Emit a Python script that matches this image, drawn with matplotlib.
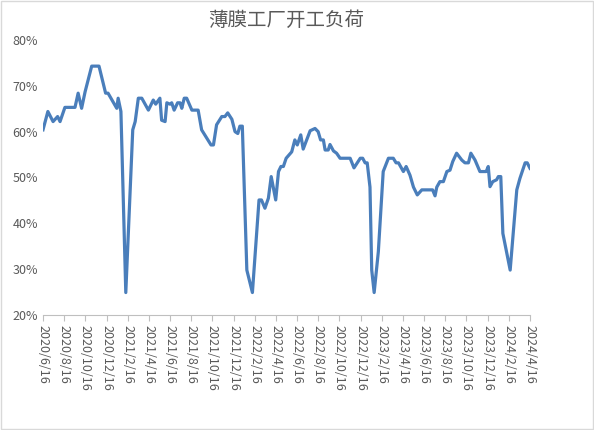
import datetime as dt
import matplotlib.pyplot as plt
import matplotlib.dates as mdates
from matplotlib.ticker import FuncFormatter

plt.rcParams['font.family'] = ['Noto Sans CJK SC', 'DejaVu Sans']

start = dt.date(2020, 6, 16)
# days after 2020/6/16, and load rate (%)
days = [0, 14, 29, 42, 49, 63, 92, 101, 111, 121, 140, 161, 180, 187, 212, 216, 224, 238,
        258, 265, 274, 284, 303, 317, 324, 336, 341, 351, 356, 365, 370, 377, 387, 394, 399,
        406, 413, 428, 446, 456, 483, 490, 499, 514, 523, 531, 543, 552, 560, 566, 573, 586,
        602, 621, 628, 638, 648, 656, 669, 677, 684, 691, 699, 715, 724, 731, 741, 748, 768,
        782, 791, 798, 806, 811, 820, 825, 835, 844, 854, 883, 894, 912, 919, 926, 932, 940,
        945, 952, 964, 978, 993, 1007, 1015, 1022, 1036, 1044, 1055, 1065, 1076, 1089, 1120,
        1127, 1132, 1141, 1151, 1161, 1170, 1178, 1189, 1204, 1213, 1223, 1230, 1242, 1256,
        1274, 1280, 1285, 1293, 1304, 1309, 1316, 1322, 1343, 1362, 1371, 1386, 1392, 1400]
load = [60.4, 64.4, 62.2, 63.3, 62.2, 65.3, 65.3, 68.4, 65.1, 68.7, 74.3, 74.3, 68.4, 68.4,
        65.1, 67.3, 64.4, 24.9, 60.4, 62.2, 67.3, 67.3, 64.7, 66.9, 66.0, 67.3, 62.5, 62.2,
        66.3, 66.0, 66.3, 64.7, 66.3, 66.3, 65.1, 67.3, 67.3, 64.7, 64.7, 60.4, 57.1, 57.1,
        61.5, 63.3, 63.3, 64.1, 62.7, 60.0, 59.6, 61.2, 61.2, 29.8, 24.9, 45.1, 45.1, 43.3,
        45.5, 50.2, 45.1, 51.3, 52.4, 52.4, 54.2, 55.6, 58.2, 57.1, 59.3, 56.2, 60.2, 60.7,
        60.0, 58.2, 58.2, 56.0, 56.0, 57.2, 55.8, 55.3, 54.2, 54.2, 52.1, 54.2, 54.2, 53.2,
        53.2, 47.9, 29.8, 24.9, 33.8, 51.3, 54.2, 54.2, 53.2, 53.2, 51.3, 52.4, 50.5, 47.9,
        46.2, 47.3, 47.3, 46.0, 47.9, 49.1, 49.1, 51.3, 51.6, 53.5, 55.3, 53.8, 53.2, 53.2,
        55.3, 53.8, 51.3, 51.3, 52.4, 48.0, 49.1, 49.5, 50.2, 50.2, 37.8, 29.8, 47.3, 49.8,
        53.2, 53.2, 52.0]
dates = [start + dt.timedelta(days=d) for d in days]

tick_dates = []
y, m = 2020, 6
while (y, m) <= (2024, 4):
    tick_dates.append(dt.date(y, m, 16))
    m += 2
    if m > 12:
        m -= 12
        y += 1

fig = plt.figure(figsize=(5.94, 4.30), dpi=100)
fig.patches.append(plt.Rectangle((0.002, 0.002), 0.996, 0.996, transform=fig.transFigure,
                                 fill=False, edgecolor='#d9d9d9', linewidth=1))
ax = fig.add_axes([43 / 594, 1 - 315 / 430, 487 / 594, 275 / 430])
ax.plot(dates, [v / 100 for v in load], color='#4a7ebb', linewidth=2.3)

ax.set_ylim(0.2, 0.8)
ax.set_yticks([0.2, 0.3, 0.4, 0.5, 0.6, 0.7, 0.8])
ax.yaxis.set_major_formatter(FuncFormatter(lambda v, p: f'{v * 100:.0f}%'))
ax.set_xlim(start, dt.date(2024, 4, 16))
ax.set_xticks(tick_dates)
ax.set_xticklabels([f'{d.year}/{d.month}/{d.day}' for d in tick_dates], rotation=-90)

for s in ['top', 'right', 'left']:
    ax.spines[s].set_visible(False)
ax.spines['bottom'].set_color('#bfbfbf')
ax.tick_params(axis='y', length=0, labelsize=9, colors='#595959')
ax.tick_params(axis='x', length=4, color='#bfbfbf', labelsize=9, labelcolor='#595959')
ax.set_title('薄膜工厂开工负荷', fontsize=14, color='#595959', pad=10)

fig.savefig('out.png', dpi=100)
